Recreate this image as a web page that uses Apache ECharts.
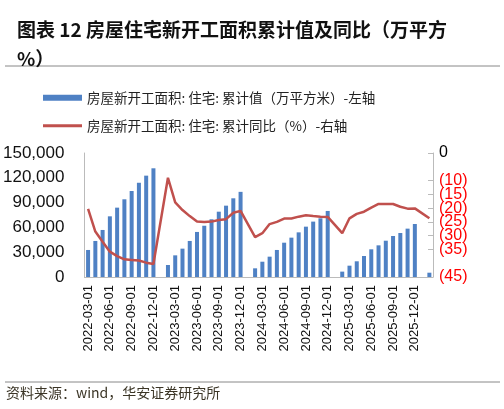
<!DOCTYPE html>
<html><head><meta charset="utf-8">
<script src="https://cdn.jsdelivr.net/npm/echarts@6/dist/echarts.min.js"></script>
<style>html,body{margin:0;padding:0;background:#fff}#c{width:504px;height:409px}</style>
</head><body><div id="c"></div>
<script>
const categories = [];
for (let y = 2022; y <= 2026; y++) for (let m = 1; m <= 12; m++) {
  const s = y + '-' + String(m).padStart(2, '0') + '-01';
  if (s >= '2022-03-01' && s <= '2026-02-01') categories.push(s);
}
const cumArea = [
  32700,43600,56900,73400,83900,94000,104000,114000,122600,131500,
  null,14500,26200,34300,43600,54500,62000,69800,79000,86300,95200,103000,
  null,10500,18500,24600,32700,41500,47600,54000,60900,67000,71000,79900,
  null,6500,13700,19000,25400,33500,38300,43900,49600,53200,58500,64100,
  null,5200
];
const yoy = [
  -20.3,-28.5,-32.2,-35.8,-37.4,-38.6,-38.8,-39.0,-39.8,-40.3,
  null,-9.0,-17.9,-20.7,-22.9,-24.9,-25.0,-24.9,-24.3,-24.0,-21.7,-21.0,
  null,-30.5,-29.1,-25.8,-25.0,-23.8,-23.8,-23.1,-22.6,-22.9,-23.1,-23.2,
  null,-29.1,-23.7,-22.1,-21.3,-19.8,-18.5,-18.5,-18.5,-19.5,-20.2,-20.1,
  null,-23.7
];
const nameBar = '房屋新开工面积: 住宅: 累计值（万平方米）-左轴';
const nameLine = '房屋新开工面积: 住宅: 累计同比（%）-右轴';
const chart = echarts.init(document.getElementById('c'));
chart.setOption({
  animation: false,
  title: { text: '图表 12 房屋住宅新开工面积累计值及同比（万平方\n%）', left: 12, top: 10,
    textStyle: { fontSize: 19, fontWeight: 'bold', color: '#111', lineHeight: 29, fontFamily: 'Noto Sans CJK SC' } },
  graphic: [
    { type: 'line', shape: { x1: 5, y1: 66, x2: 500, y2: 66 }, style: { stroke: '#888', lineWidth: 1 } },
    { type: 'line', shape: { x1: 5, y1: 382, x2: 500, y2: 382 }, style: { stroke: '#888', lineWidth: 1 } },
    { type: 'text', left: 6, top: 386, style: { text: '资料来源：wind，华安证券研究所', fontSize: 14, fill: '#3b3526', fontFamily: 'Noto Sans CJK SC' } }
  ],
  legend: [
    { data: [{ name: nameBar, icon: 'rect' }], left: 38, top: 86, itemWidth: 39, itemHeight: 6, itemGap: 5,
      textStyle: { fontSize: 13.5, color: '#222', fontFamily: 'Noto Sans CJK SC' } },
    { data: [{ name: nameLine, icon: 'rect' }], left: 38, top: 114, itemWidth: 39, itemHeight: 3, itemGap: 5,
      textStyle: { fontSize: 13.5, color: '#222', fontFamily: 'Noto Sans CJK SC' } }
  ],
  grid: { left: 58, right: 71, top: 153, bottom: 132, containLabel: false },
  xAxis: { type: 'category', data: categories, boundaryGap: true,
    axisLine: { lineStyle: { color: '#bbb' } }, axisTick: { show: false },
    axisLabel: { interval: 2, rotate: 90, fontSize: 13, color: '#111', fontFamily: 'Liberation Sans' } },
  yAxis: [
    { type: 'value', min: 0, max: 150000, interval: 30000, splitLine: { show: false },
      axisLine: { show: true, lineStyle: { color: '#bbb' } },
      axisLabel: { fontSize: 17, color: '#111', margin: 20, fontFamily: 'Liberation Sans',
        showMinLabel: true, showMaxLabel: true, formatter: v => v.toLocaleString('en-US') } },
    { type: 'value', min: -45, max: 0, interval: 5, splitLine: { show: false },
      axisLine: { show: true, lineStyle: { color: '#bbb' } }, axisTick: { show: true, inside: true, lineStyle: { color: '#bbb' } },
      axisLabel: { fontSize: 16, margin: 6, fontFamily: 'Liberation Sans', showMinLabel: true, showMaxLabel: true, hideOverlap: false,
        formatter: v => v === 0 ? '{k|0}' : '(' + (-v) + ')', color: '#f00', rich: { k: { color: '#000', fontSize: 16 } } } }
  ],
  series: [
    { name: nameBar, type: 'bar', data: cumArea, barWidth: 4, itemStyle: { color: '#4f81c4' } },
    { name: nameLine, type: 'line', yAxisIndex: 1, data: yoy, connectNulls: true, showSymbol: false,
      lineStyle: { color: '#c0504d', width: 2.5 }, itemStyle: { color: '#c0504d' } }
  ]
});
</script></body></html>
